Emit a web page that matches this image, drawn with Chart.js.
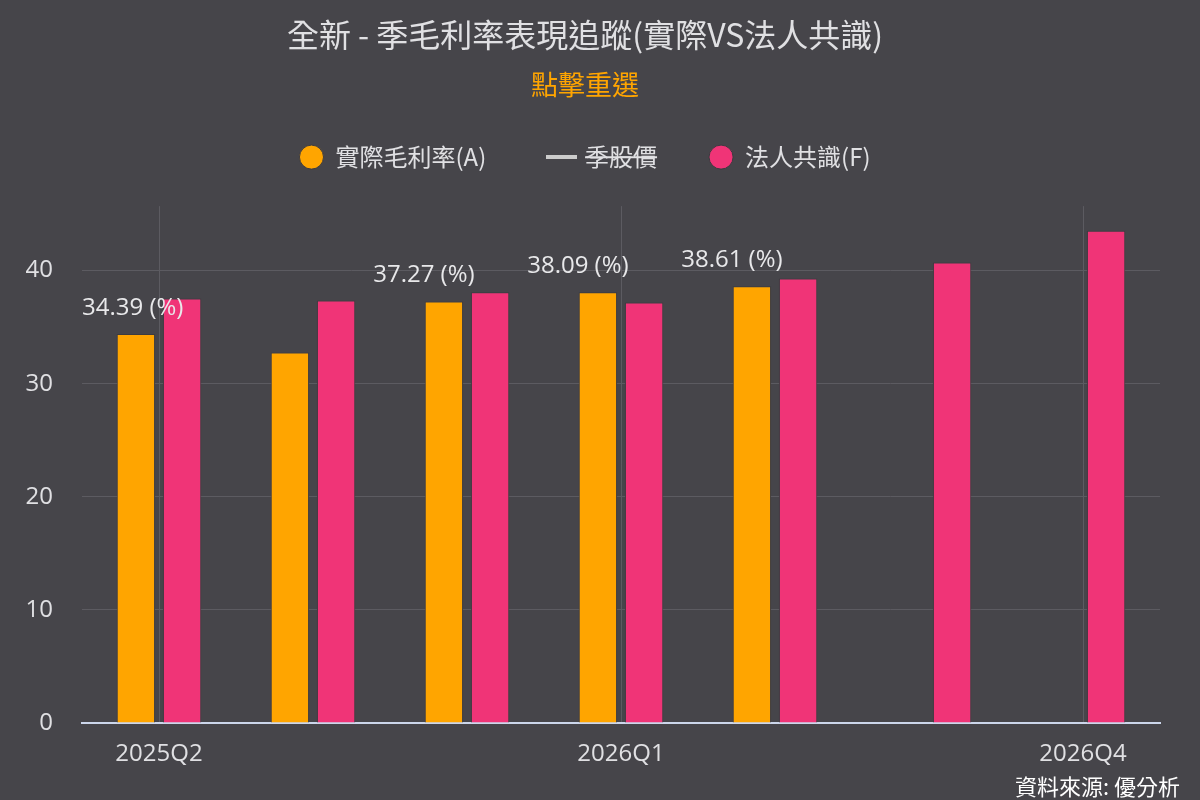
<!DOCTYPE html>
<html>
<head>
<meta charset="utf-8">
<title>全新 - 季毛利率表現追蹤</title>
<script src="https://cdn.jsdelivr.net/npm/chart.js@4.4.1/dist/chart.umd.min.js"></script>
<style>
  html, body { margin: 0; padding: 0; background: #46454a; }
  #wrap { width: 1200px; height: 800px; }
</style>
</head>
<body>
<div id="wrap"><canvas id="gmChart"></canvas></div>
<script>
const quarters = ['2025Q2', '2025Q3', '2025Q4', '2026Q1', '2026Q2', '2026Q3', '2026Q4'];
const actualMargin = [34.39, 32.75, 37.27, 38.09, 38.61, null, null];
const consensusMargin = [37.53, 37.35, 38.09, 37.17, 39.29, 40.71, 43.51];
const shownLabels = [true, false, true, true, true, false, false];
const tickEvery = 3;

const FONT = "'Open Sans', 'Noto Sans CJK TC', sans-serif";
const CJK = "'Noto Sans CJK TC', 'Open Sans', sans-serif";
const TEXT = '#e0e0e3';
const GRID = '#5c5b61';

Chart.defaults.font.family = FONT;
Chart.defaults.color = TEXT;

// legend symbol for the price line: a short thick bar
const lineSymbol = document.createElement('canvas');
lineSymbol.width = 31;
lineSymbol.height = 4;
const ls = lineSymbol.getContext('2d');
ls.fillStyle = '#cccccc';
ls.fillRect(0, 0, 31, 4);

// value labels above the orange bars
const barLabels = {
    id: 'barLabels',
    afterDatasetsDraw(chart) {
        const { ctx, chartArea } = chart;
        const meta = chart.getDatasetMeta(0);
        ctx.save();
        ctx.font = '24px ' + FONT;
        ctx.fillStyle = '#e8e8ea';
        ctx.textAlign = 'center';
        ctx.textBaseline = 'middle';
        meta.data.forEach((bar, i) => {
            if (!shownLabels[i] || actualMargin[i] == null) return;
            const text = actualMargin[i].toFixed(2) + ' (%)';
            const w = ctx.measureText(text).width;
            let x = bar.x - 20;
            if (x - w / 2 < chartArea.left) x = chartArea.left + w / 2;
            ctx.fillText(text, x, bar.y - 26);
        });
        ctx.restore();
    }
};

// source note bottom right
const sourceNote = {
    id: 'sourceNote',
    afterDraw(chart) {
        const { ctx } = chart;
        ctx.save();
        ctx.font = '22px ' + CJK;
        ctx.fillStyle = '#ffffff';
        ctx.textAlign = 'right';
        ctx.textBaseline = 'middle';
        ctx.fillText('資料來源: 優分析', 1180, 787);
        ctx.restore();
    }
};

const ctx = document.getElementById('gmChart').getContext('2d');

const gmChart = new Chart(ctx, {
    type: 'bar',
    data: {
        labels: quarters,
        datasets: [{
            label: '實際毛利率(A)  ',
            data: actualMargin,
            backgroundColor: '#ffa500',
            borderColor: '#3c3b40',
            borderWidth: 1,
            pointStyle: 'circle',
            categoryPercentage: 0.6,
            barPercentage: 0.83
        }, {
            type: 'line',
            label: '季股價',
            data: [],
            hidden: true,
            borderColor: '#cccccc',
            borderWidth: 4,
            pointStyle: lineSymbol
        }, {
            label: '法人共識(F)',
            data: consensusMargin,
            backgroundColor: '#f03477',
            borderColor: '#3c3b40',
            borderWidth: 1,
            pointStyle: 'circle',
            categoryPercentage: 0.6,
            barPercentage: 0.83
        }]
    },
    options: {
        responsive: true,
        maintainAspectRatio: false,
        animation: false,
        layout: {
            padding: { left: 10, right: 40, top: 0, bottom: 0 }
        },
        scales: {
            x: {
                grid: { color: GRID, lineWidth: 1, offset: false, drawTicks: false },
                border: { color: '#ccd6eb', width: 2 },
                ticks: {
                    autoSkip: false,
                    maxRotation: 0,
                    padding: 17,
                    font: { size: 24 },
                    color: TEXT,
                    callback: (val, i) => (i % tickEvery === 0 ? quarters[i] : null)
                },
                afterFit: (s) => { s.height = 77; }
            },
            xTop: {
                position: 'top',
                display: true,
                grid: { display: false, drawTicks: false },
                border: { display: false },
                ticks: { display: false },
                afterFit: (s) => { s.height = 27; }
            },
            y: {
                min: 0,
                max: 45.7,
                grid: { color: GRID, lineWidth: 1, drawTicks: false },
                border: { display: false },
                ticks: {
                    stepSize: 10,
                    padding: 29,
                    font: { size: 24 },
                    color: TEXT,
                    callback: (v) => (v % 10 === 0 ? v : null)
                },
                afterFit: (s) => { s.width = 72; }
            }
        },
        plugins: {
            title: {
                display: true,
                text: '全新 - 季毛利率表現追蹤(實際VS法人共識)',
                color: TEXT,
                font: { size: 32, family: CJK, weight: 'normal', lineHeight: 1.2 },
                padding: { top: 16, bottom: 22.5 }
            },
            subtitle: {
                display: true,
                text: '點擊重選',
                color: '#ffa500',
                font: { size: 27, family: CJK, lineHeight: 0.6 },
                padding: { top: 0, bottom: 0 }
            },
            legend: {
                display: true,
                onClick: null,
                labels: {
                    usePointStyle: true,
                    boxWidth: 24,
                    boxHeight: 17,
                    padding: 52,
                    color: TEXT,
                    font: { size: 24, family: CJK }
                }
            },
            tooltip: { enabled: false }
        }
    },
    plugins: [barLabels, sourceNote]
});
</script>
</body>
</html>
